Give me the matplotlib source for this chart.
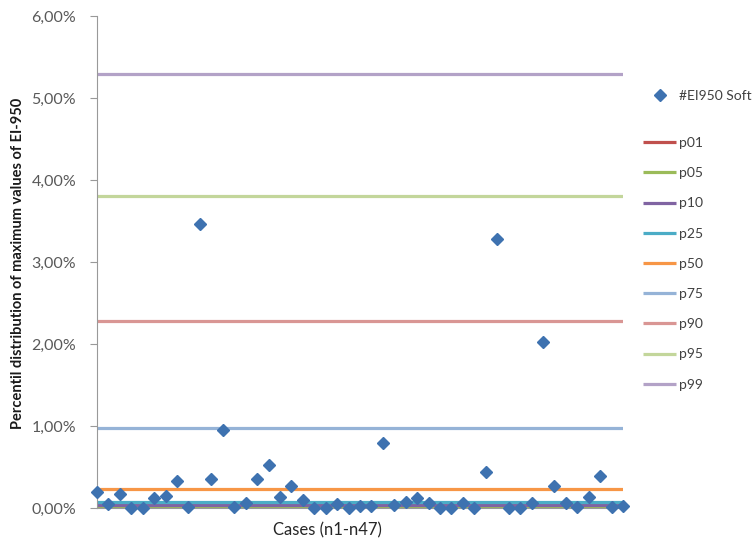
import matplotlib
matplotlib.use("Agg")
import matplotlib.pyplot as plt
from matplotlib.ticker import FuncFormatter

plt.rcParams['font.family'] = ['Lato', 'DejaVu Sans']

# Data (values in %)
cases = list(range(1, 48))
ei950_soft = [0.19, 0.045, 0.17, 0.00, 0.00, 0.12, 0.15, 0.33, 0.01, 3.46,
              0.35, 0.95, 0.01, 0.06, 0.35, 0.53, 0.13, 0.27, 0.10, 0.00,
              0.00, 0.045, 0.00, 0.03, 0.03, 0.79, 0.035, 0.07, 0.12, 0.06,
              0.00, 0.00, 0.06, 0.00, 0.44, 3.28, 0.00, 0.00, 0.06, 2.02,
              0.27, 0.06, 0.015, 0.13, 0.39, 0.015, 0.03]
pct_labels = ['p01', 'p05', 'p10', 'p25', 'p50', 'p75', 'p90', 'p95', 'p99']
pct_values = [0.016, 0.025, 0.035, 0.077, 0.228, 0.98, 2.28, 3.80, 5.29]
pct_colors = ['#C0504D', '#9BBB59', '#8064A2', '#4BACC6', '#F79646',
              '#95B3D7', '#D99694', '#C3D69B', '#B3A2C7']
y_ticks = [0, 1, 2, 3, 4, 5, 6]

fig = plt.figure(figsize=(7.56, 5.44), dpi=100)
ax = fig.add_axes([97/756, 1-508/544, (623-97)/756, (508-16)/544])

line_handles = []
for lab, val, col in zip(pct_labels, pct_values, pct_colors):
    h, = ax.plot([cases[0], cases[-1]], [val, val], color=col, lw=2.3,
                 solid_capstyle='butt', label=lab, zorder=2)
    line_handles.append(h)

sc, = ax.plot(cases, ei950_soft, linestyle='none', marker='D', ms=6.2,
              color='#3E72B0', label='#EI950 Soft', zorder=5, clip_on=False)

ax.set_xlim(1, 47)
ax.set_ylim(0, 6)
ax.set_yticks(y_ticks)
ax.yaxis.set_major_formatter(FuncFormatter(lambda v, p: f"{v:.2f}".replace('.', ',') + '%'))
ax.set_xticks([])
for s in ['top', 'right']:
    ax.spines[s].set_visible(False)
ax.spines['left'].set_color('#999999')
ax.spines['bottom'].set_color('#999999')
ax.tick_params(axis='y', direction='out', length=5, color='#999999',
               labelsize=11.5, labelcolor='#595959', pad=10)

fig.text(18/756, 1-263/544, 'Percentil distribution of maximum values of EI-950',
         rotation=90, ha='center', va='center', fontsize=10.5, fontweight='bold',
         color='#1a1a1a')
fig.text(327/756, 1-530/544, 'Cases (n1-n47)', ha='center', va='center',
         fontsize=12, color='#262626')

leg1 = fig.legend(handles=[sc], loc='center left', bbox_to_anchor=(643/756, 1-96/544),
                  frameon=False, fontsize=10, handlelength=2.4, handletextpad=0.22,
                  borderpad=0, borderaxespad=0)
for t in leg1.get_texts():
    t.set_color('#404040')
leg2 = fig.legend(handles=line_handles, loc='upper left',
                  bbox_to_anchor=(643/756, 1-137/544), frameon=False, fontsize=10,
                  handlelength=2.4, handletextpad=0.22, labelspacing=1.31,
                  borderpad=0, borderaxespad=0)
for t in leg2.get_texts():
    t.set_color('#404040')

fig.savefig('out.png', dpi=100)
